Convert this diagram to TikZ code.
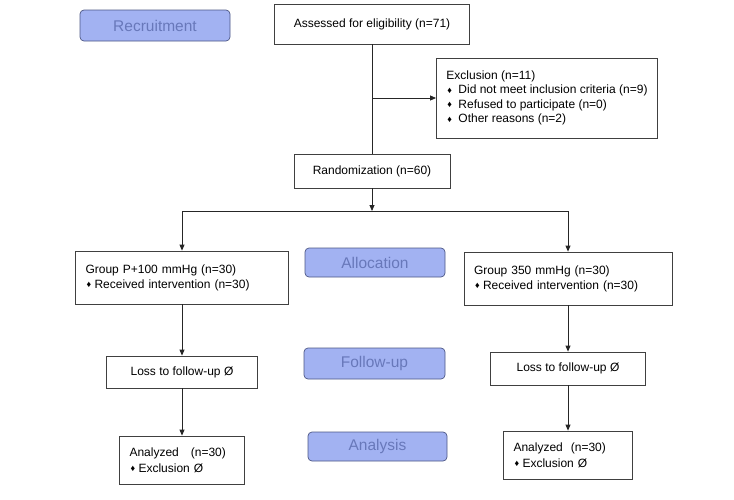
\documentclass[tikz,border=0pt]{standalone}
\usepackage{fontspec}
\setmainfont{Liberation Sans}
\usetikzlibrary{arrows.meta}

\definecolor{stagefill}{HTML}{A2B2F2}
\definecolor{stagetext}{HTML}{6878BA}
\definecolor{stageline}{HTML}{4C5784}

\newcommand{\dmd}[1][9pt]{\makebox[#1][l]{\hspace{1pt}\raisebox{0.3pt}{\fontsize{9}{9}\selectfont ♦}}}

\tikzset{
  box/.style={draw=black!75, line width=0.8pt, inner xsep=10pt, font=\fontsize{12}{15}\selectfont},
  stage/.style={draw=stageline, line width=0.7pt, fill=stagefill, rounded corners=4pt,
    text=stagetext, font=\fontsize{15.5}{18}\selectfont},
  link/.style={draw=black!85, line width=0.8pt},
  arr/.style={link, -{Triangle[length=6pt,width=5pt]}}
}

\begin{document}
\begin{tikzpicture}[x={(1pt,0)}, y={(0,-1pt)}]
  \useasboundingbox (0,0) rectangle (734,499);

  \node[stage, minimum width=150pt, minimum height=31pt] (recruit) at (155,25.5) {Recruitment};
  \node[stage, minimum width=140pt, minimum height=29pt] (alloc) at (375,262.5) {Allocation};
  \node[stage, minimum width=141pt, minimum height=31pt] (follow) at (374.5,363.5) {Follow-up};
  \node[stage, minimum width=139pt, minimum height=29pt] (analysis) at (377.5,446.5) {Analysis};

  \node[box, minimum width=195pt, minimum height=40pt] (assess) at (372,24) {Assessed for eligibility (n=71)};
  \node[box, align=left, minimum width=220pt, minimum height=80pt, font=\fontsize{12}{14.3}\selectfont]
    (excl) at (547,98) {Exclusion (n=11)\\ \dmd[12pt]Did not meet inclusion criteria (n=9)\\
    \dmd[12pt]Refused to participate (n=0)\\ \dmd[12pt]Other reasons (n=2)};
  \node[box, minimum width=156pt, minimum height=34pt] (rand) at (372,171) {Randomization (n=60)};

  \node[box, align=left, text width=193pt, minimum height=53pt] (grpA) at (182,277.5)
    {Group P+100 mmHg (n=30)\\ \dmd Received intervention (n=30)};
  \node[box, align=left, text width=188pt, minimum height=53pt] (grpB) at (568,278.5)
    {Group 350 mmHg (n=30)\\ \dmd Received intervention (n=30)};

  \node[box, minimum width=151pt, minimum height=32pt] (lossA) at (182,372) {Loss to follow-up Ø};
  \node[box, minimum width=155pt, minimum height=33pt] (lossB) at (568,368.5) {Loss to follow-up Ø};

  \node[box, align=left, text width=105pt, minimum height=48pt, font=\fontsize{12}{16}\selectfont]
    (anaA) at (182,460) {Analyzed \ \ (n=30)\\ \dmd Exclusion Ø};
  \node[box, align=left, text width=109pt, minimum height=48pt, font=\fontsize{12}{16}\selectfont]
    (anaB) at (568,455) {Analyzed \ (n=30)\\ \dmd Exclusion Ø};

  \coordinate (split) at (assess.south |- excl.west);
  \coordinate (fork) at (372,211);

  \draw[link] (assess.south) -- (rand.north);
  \draw[arr] (split) -- (excl.west);
  \draw[arr] (rand.south) -- (fork);
  \draw[arr] (fork) -| (grpA.north);
  \draw[arr] (fork) -| (grpB.north);
  \draw[arr] (grpA) -- (lossA);
  \draw[arr] (lossA) -- (anaA);
  \draw[arr] (grpB) -- (lossB);
  \draw[arr] (lossB) -- (anaB);
\end{tikzpicture}
\end{document}
